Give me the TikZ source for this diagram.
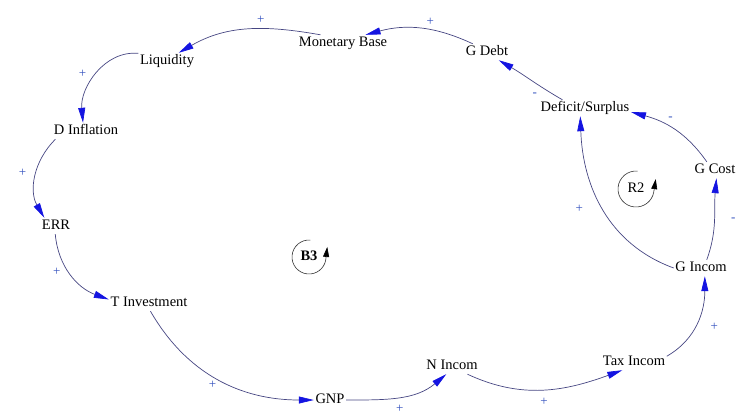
\documentclass[tikz,border=0pt]{standalone}
\usepackage{fontspec}
\setmainfont{Liberation Serif}
\usetikzlibrary{arrows.meta}
\definecolor{linkline}{RGB}{70,70,130}
\definecolor{linkhead}{RGB}{20,20,225}
\definecolor{polblue}{RGB}{50,80,190}

\begin{document}
\begin{tikzpicture}[x=1pt, y=1pt, v/.style={inner sep=1.5pt, text height=10pt, text depth=3pt, font=\fontsize{14.5}{16}\selectfont}, a/.style={draw=linkline, line width=0.7pt, -{Triangle[length=15pt, width=7pt, color=linkhead]}}, pol/.style={text=polblue, font=\fontsize{13}{14}\selectfont, inner sep=2pt}, lp/.style={draw=black!80, line width=0.6pt, -{Triangle[length=10pt, width=6pt, color=black]}}]
		\useasboundingbox (0,-416) rectangle (738,0);

		\node[v] (MB) at (343,-43) {Monetary Base};
		\node[v] (GD) at (487,-52) {G Debt};
		\node[v] (DS) at (585,-108) {Deficit/Surplus};
		\node[v] (GC) at (715,-170) {G Cost};
		\node[v] (GI) at (701,-268) {G Incom};
		\node[v] (TI) at (634,-362) {Tax Incom};
		\node[v] (NI) at (452,-366) {N Incom};
		\node[v] (GNP) at (330,-400) {GNP};
		\node[v] (TInv) at (149,-303) {T Investment};
		\node[v] (ERR) at (56,-226) {ERR};
		\node[v] (DI) at (86,-131) {D Inflation};
		\node[v] (Liq) at (167,-61) {Liquidity};

		\path (MB.160) edge[a, out=170, in=30] node[pol, pos=0.4, above=3pt] {+} (Liq.35);
		\path (GD.150) edge[a, out=155, in=15] node[pol, pos=0.4, above=2pt] {+} (MB.20);
		\path (DS.160) edge[a, out=150, in=-30] node[pol, pos=0.3, below left=3pt] {-} (GD.-35);
		\path (GC.135) edge[a, out=125, in=-15] node[pol, pos=0.55, above=4pt] {-} (DS.-5);
		\path (GI.west) edge[a, out=160, in=-88] node[pol, pos=0.5, left=18pt] {+} (DS.-120);
		\path (GI.55) edge[a, out=70, in=-95] node[pol, pos=0.5, right=14pt] {-} (GC.-80);
		\path (TI.10) edge[a, out=30, in=-90] node[pol, pos=0.45, right=13pt] {+} (GI.-65);
		\path (NI.-28) edge[a, out=-25, in=-160] node[pol, pos=0.5, below=6pt] {+} (TI.-145);
		\path (GNP.east) edge[a, out=0, in=-140] node[pol, pos=0.5, below=6pt] {+} (NI.-125);
		\path (TInv.-80) edge[a, out=-60, in=180] node[pol, pos=0.5, below left] {+} (GNP.west);
		\path (ERR.-95) edge[a, out=-85, in=160] node[pol, pos=0.45, left=6pt] {+} (TInv.175);
		\path (DI.-165) edge[a, out=-135, in=120] node[pol, pos=0.45, left=8pt] {+} (ERR.145);
		\path (Liq.165) edge[a, out=175, in=95] node[pol, pos=0.5, left=8pt] {+} (DI.110);

		% loop markers
		\node[v, font=\fontsize{14.5}{16}\selectfont\bfseries] (B3) at (309,-257) {B3};
		\draw[lp] (B3.center) ++(85:17pt) arc[start angle=85, end angle=350, radius=17pt] -- ++(1.5pt,13pt);
		\node[v] (R2) at (636,-189) {R2};
		\draw[lp] (R2.center) ++(85:18pt) arc[start angle=85, end angle=350, radius=18pt] -- ++(2pt,13pt);
	\end{tikzpicture}
\end{document}
